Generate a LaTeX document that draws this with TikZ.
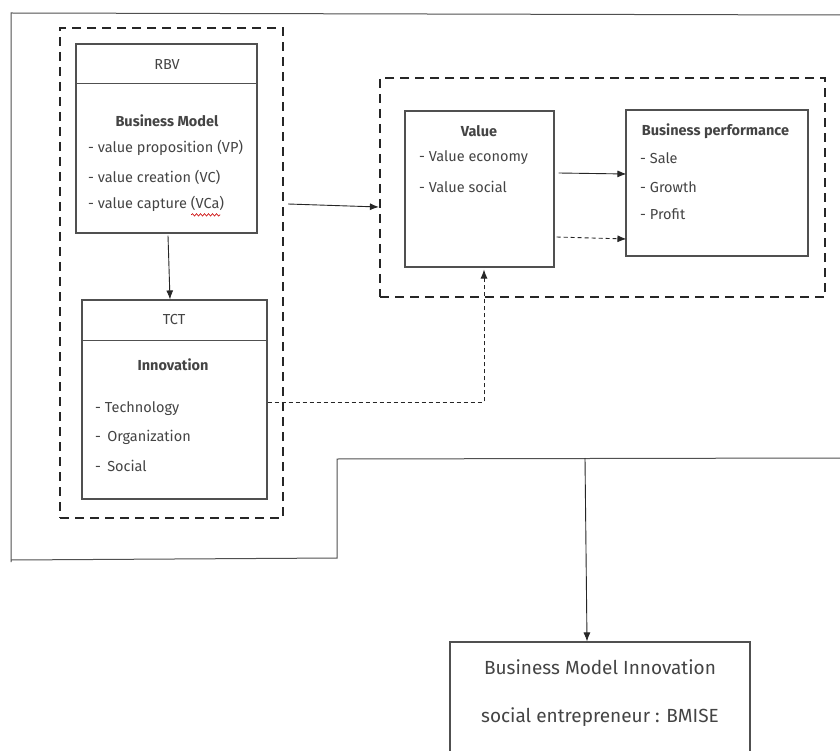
\documentclass[tikz,border=0pt]{standalone}
\usepackage{fontspec}
\setmainfont{Fira Sans}
\usetikzlibrary{arrows.meta,calc,decorations.pathmorphing}
\definecolor{ink}{HTML}{444444}
\definecolor{edge}{HTML}{505050}
\begin{document}
\begin{tikzpicture}[x=1pt,y=-1pt,
  box/.style={draw=edge,line width=1.1pt,inner sep=0pt,fill=none},
  group/.style={draw=black!85,line width=2.2pt,dash pattern=on 9pt off 6pt,inner sep=0pt},
  divider/.style={draw=edge,line width=1pt},
  frame/.style={draw=edge,line width=1pt},
  arrow/.style={draw=black!85,line width=0.9pt,-{Latex[length=9pt,width=7pt]}},
  dasharrow/.style={arrow,dash pattern=on 4pt off 3pt},
  txt/.style={text=ink,font=\fontsize{14.5}{16}\selectfont,inner sep=0pt},
  head/.style={txt,font=\fontsize{14.5}{16}\selectfont\bfseries},
  item/.style={txt,anchor=west},
  big/.style={txt,font=\fontsize{19}{21}\selectfont}]
\useasboundingbox (0,0) rectangle (840,751);
\fill[white] (0,0) rectangle (840,751);

% outer frame around the model
\coordinate (fa) at (840,15);
\coordinate (fb) at (11,13);
\coordinate (fc) at (11,562);
\coordinate (fd) at (337,558);
\coordinate (fe) at (337,459);
\coordinate (ff) at (840,458);
\draw[frame] (fa) -- (fb) -- (fc);
\draw[frame] (11,560) -- (fd) -- (fe) -- (ff);

% dashed groups
\node[group,minimum width=223,minimum height=490] (leftgroup) at (171.5,273) {};
\node[group,minimum width=445,minimum height=219] (rightgroup) at (602.5,187.5) {};

% RBV / business model
\node[box,minimum width=181,minimum height=189] (rbv) at (166.5,138.5) {};
\draw[divider] (rbv.west |- 0,84) -- (rbv.east |- 0,84);
\node[txt] (rbvh) at (167,65) {RBV};
\node[head] (bm) at (167,121) {Business Model};
\node[item] (vp) at (88,148) {- value proposition (VP)};
\node[item] (vc) at (88,177) {- value creation (VC)};
\node[item] (vca) at (88,204) {- value capture (VCa)};
\draw[red!80!black,line width=0.6pt,decorate,decoration={snake,amplitude=1.2pt,segment length=4pt}]
  ($(vca.south east)+(-33,3)$) -- ($(vca.south east)+(-4,3)$);

% TCT / innovation
\node[box,minimum width=185,minimum height=199] (tct) at (174.5,399.5) {};
\draw[divider] (tct.west |- 0,340) -- (tct.east |- 0,340);
\node[txt] (tcth) at (174,320) {TCT};
\node[head] (inno) at (173,365) {Innovation};
\node[item] (tech) at (95,409) {- Technology};
\node[item] (org) at (95,437) {- \,Organization};
\node[item] (soc) at (95,466) {- \,Social};

% value
\node[box,minimum width=149,minimum height=156] (value) at (479.5,189) {};
\node[head] (valh) at (479,131) {Value};
\node[item] (veco) at (419,158) {- Value economy};
\node[item] (vsoc) at (419,187) {- Value social};

% business performance
\node[box,minimum width=182,minimum height=146] (perf) at (717,183) {};
\node[head] (perfh) at (715.5,131) {Business performance};
\node[item] (sale) at (640,158) {- Sale};
\node[item] (grow) at (640,187) {- Growth};
\node[item] (prof) at (640,214) {- Profit};

% outcome
\node[box,minimum width=300,minimum height=118] (bmise) at (600,701) {};
\node[big] (bmi1) at (600,667) {Business Model Innovation};
\node[big] (bmi2) at (600,717) {social entrepreneur : BMISE};

% connectors
\draw[arrow] ($(rbv.south)+(1.5,2)$) -- ($(tct.north)+(-4.5,0)$);
\draw[arrow] ($(leftgroup.east |- 0,204)+(4,0)$) -- (rightgroup.west |- 0,207);
\draw[arrow] ($(value.east |- 0,173)+(4,0)$) -- ($(perf.west |- 0,174)+(1,0)$);
\draw[dasharrow] ($(value.east |- 0,237)+(2,0)$) -- ($(perf.west |- 0,239)+(1,0)$);
\draw[dasharrow] (tct.east |- 0,402) -| ($(value.south)+(4.5,2)$);
\coordinate (split) at (585,458);
\draw[arrow] (split) -- ($(bmise.north)+(-13,0)$);
\end{tikzpicture}
\end{document}
